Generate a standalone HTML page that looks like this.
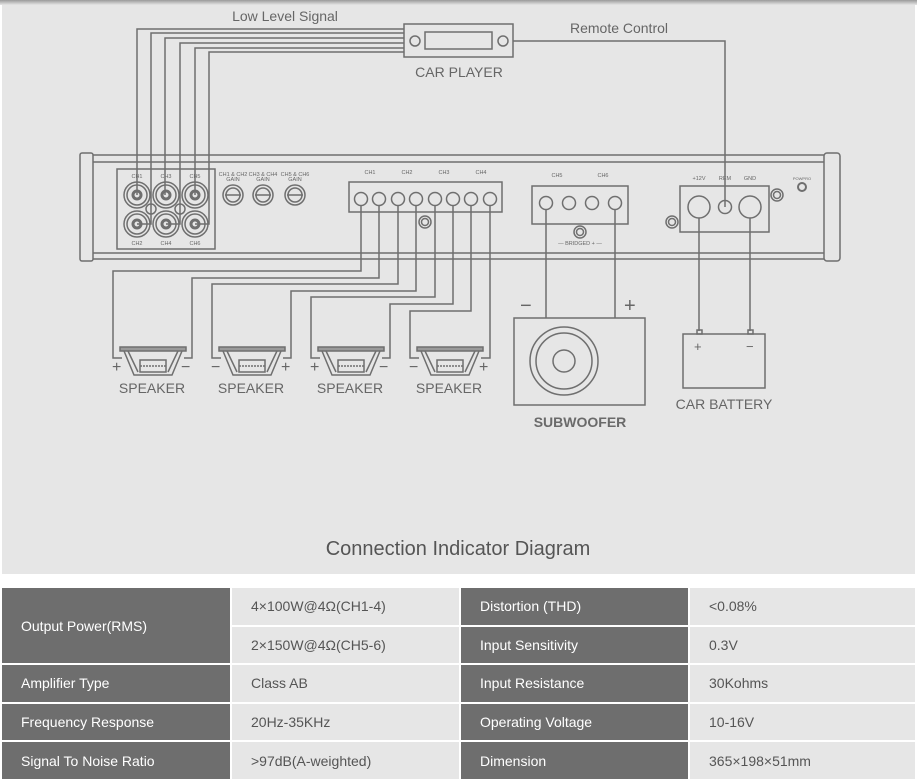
<!DOCTYPE html>
<html><head><meta charset="utf-8">
<style>
body{margin:0;width:917px;height:781px;background:#fff;overflow:hidden;font-family:"Liberation Sans",sans-serif}
.bg{position:absolute;left:2px;top:0;width:913px;height:574px;background:#e6e6e6}
.top{position:absolute;left:0;top:0;width:917px;height:5px;background:linear-gradient(#9a9a9a,#e6e6e6)}
svg{position:absolute;left:0;top:0}
table{position:absolute;left:2px;top:588px;border-collapse:separate;border-spacing:2px 0;margin-left:-2px}
td{height:36.6px;font-size:14px;padding:0 0 0 19px;border-bottom:2px solid #fff}
td.d{background:#6e6e6e;color:#fff}
td.l{background:#e6e6e6;color:#555}
</style></head><body>
<div class="bg"></div><div class="top"></div>
<svg width="917" height="781" viewBox="0 0 917 781" fill="none" stroke="#6f6f6f" stroke-width="1.5">
<g font-family="Liberation Sans, sans-serif" fill="#666" stroke="none">
<text x="285" y="21" font-size="14" text-anchor="middle">Low Level Signal</text>
<text x="619" y="33" font-size="14" text-anchor="middle">Remote Control</text>
<text x="459" y="77" font-size="14" text-anchor="middle">CAR PLAYER</text>
<text x="580" y="427" font-size="14" text-anchor="middle" font-weight="bold" fill="#6a6a6a">SUBWOOFER</text>
<text x="724" y="409" font-size="14" text-anchor="middle">CAR BATTERY</text>
<text x="458" y="555" font-size="20" text-anchor="middle" fill="#555">Connection Indicator Diagram</text>
<g font-size="14" text-anchor="middle"><text x="152" y="393">SPEAKER</text><text x="251" y="393">SPEAKER</text><text x="350" y="393">SPEAKER</text><text x="449" y="393">SPEAKER</text></g>
<g font-size="5.5" text-anchor="middle"><text x="137" y="178">CH1</text><text x="166" y="178">CH3</text><text x="195" y="178">CH5</text><text x="137" y="245">CH2</text><text x="166" y="245">CH4</text><text x="195" y="245">CH6</text>
<text x="233" y="176">CH1 &amp; CH2</text><text x="233" y="181">GAIN</text><text x="263" y="176">CH3 &amp; CH4</text><text x="263" y="181">GAIN</text><text x="295" y="176">CH5 &amp; CH6</text><text x="295" y="181">GAIN</text>
<text x="370" y="174">CH1</text><text x="407" y="174">CH2</text><text x="444" y="174">CH3</text><text x="481" y="174">CH4</text>
<text x="557" y="177">CH5</text><text x="603" y="177">CH6</text>
<text x="699" y="180">+12V</text><text x="725" y="180">REM</text><text x="750" y="180">GND</text>
<text x="580" y="245">— BRIDGED + —</text><text x="802" y="180" font-size="4">POWPRO</text></g>
<g font-size="16"><text x="112" y="372">+</text><text x="181" y="372">−</text><text x="211" y="372">−</text><text x="281" y="372">+</text><text x="310" y="372">+</text><text x="379" y="372">−</text><text x="409" y="372">−</text><text x="479" y="372">+</text></g>
<text x="520" y="312" font-size="20">−</text><text x="624" y="312" font-size="20">+</text>
<text x="694" y="351" font-size="13">+</text><text x="746" y="351" font-size="13">−</text>
</g>
<!-- car player -->
<rect x="404" y="24" width="109" height="33"/><circle cx="415" cy="41" r="5"/><circle cx="503" cy="41" r="5"/><rect x="425" y="32" width="67" height="17"/>
<!-- input wires -->
<path d="M404 29H137V195M404 33H151V224H137M404 38H165V195M404 43H180V224H166M404 48H195V195M404 52H209V224H195"/>
<path d="M513 41H725V207"/>
<!-- amp body -->
<path d="M93 155H824M93 162H824M93 253H824M93 259H824"/>
<rect x="80" y="153" width="13" height="108" rx="2"/><rect x="824" y="153" width="16" height="108" rx="3"/>
<rect x="117" y="169" width="98" height="80"/>
<g>
<circle cx="137" cy="195" r="13"/><circle cx="137" cy="195" r="10"/><circle cx="137" cy="195" r="4" stroke-width="3"/>
<circle cx="166" cy="195" r="13"/><circle cx="166" cy="195" r="10"/><circle cx="166" cy="195" r="4" stroke-width="3"/>
<circle cx="195" cy="195" r="13"/><circle cx="195" cy="195" r="10"/><circle cx="195" cy="195" r="4" stroke-width="3"/>
<circle cx="137" cy="224" r="13"/><circle cx="137" cy="224" r="10"/><circle cx="137" cy="224" r="4" stroke-width="3"/>
<circle cx="166" cy="224" r="13"/><circle cx="166" cy="224" r="10"/><circle cx="166" cy="224" r="4" stroke-width="3"/>
<circle cx="195" cy="224" r="13"/><circle cx="195" cy="224" r="10"/><circle cx="195" cy="224" r="4" stroke-width="3"/>
<circle cx="151" cy="209" r="5"/><circle cx="180" cy="209" r="5"/>
<circle cx="233" cy="195" r="10"/><circle cx="233" cy="195" r="7"/><path d="M225 195H241"/>
<circle cx="263" cy="195" r="10"/><circle cx="263" cy="195" r="7"/><path d="M255 195H271"/>
<circle cx="295" cy="195" r="10"/><circle cx="295" cy="195" r="7"/><path d="M287 195H303"/>
</g>
<rect x="349" y="182" width="153" height="30"/>
<g><circle cx="361" cy="199" r="6.5"/><circle cx="379" cy="199" r="6.5"/><circle cx="398" cy="199" r="6.5"/><circle cx="416" cy="199" r="6.5"/><circle cx="435" cy="199" r="6.5"/><circle cx="453" cy="199" r="6.5"/><circle cx="471" cy="199" r="6.5"/><circle cx="490" cy="199" r="6.5"/></g>
<circle cx="425" cy="222" r="6"/><circle cx="425" cy="222" r="3.5"/>
<rect x="532" y="186" width="96" height="38"/>
<circle cx="546" cy="203" r="6.5"/><circle cx="569" cy="203" r="6.5"/><circle cx="592" cy="203" r="6.5"/><circle cx="615" cy="203" r="6.5"/>
<circle cx="580" cy="232" r="6"/><circle cx="580" cy="232" r="3.5"/>
<rect x="680" y="186" width="89" height="46"/>
<circle cx="699" cy="207" r="11"/><circle cx="725" cy="207" r="6.5"/><circle cx="750" cy="207" r="11"/>
<circle cx="672" cy="222" r="6"/><circle cx="672" cy="222" r="3.5"/><circle cx="777" cy="195" r="6"/><circle cx="777" cy="195" r="3.5"/>
<circle cx="802" cy="187" r="4" stroke-width="2"/>
<!-- speaker wires -->
<path d="M361 206V271H113V358H122M379 206V278H192V358H184M398 206V284H212V358H221M416 206V291H291V358H283M435 206V297H311V358H320M453 206V304H390V358H382M471 206V311H410V358H419M490 206V358H481"/>
<g id="sp">
<rect x="120" y="347" width="66" height="4" fill="#9a9a9a"/>
<path d="M124 351L134 375H172L182 351M128 351L138 372M178 351L168 372M134 375H172" />
<rect x="140" y="360" width="26" height="12"/><path d="M140 366H166" stroke-dasharray="2 1"/>
</g>
<use href="#sp" x="99"/><use href="#sp" x="198"/><use href="#sp" x="297"/>
<!-- sub -->
<path d="M546 210V318M615 210V318"/>
<rect x="514" y="318" width="131" height="87"/>
<circle cx="564" cy="361" r="34"/><circle cx="564" cy="361" r="28"/><circle cx="564" cy="361" r="11"/>
<!-- battery -->
<path d="M699 218V331M750 218V331"/>
<rect x="697" y="330" width="5" height="4"/><rect x="748" y="330" width="5" height="4"/>
<rect x="683" y="334" width="82" height="54"/>
</svg>
<table>
<tr><td class="d" rowspan="2" style="width:209px;height:75px">Output Power(RMS)</td><td class="l" style="width:208px">4×100W@4Ω(CH1-4)</td><td class="d" style="width:208px">Distortion (THD)</td><td class="l" style="width:206px">&lt;0.08%</td></tr>
<tr><td class="l">2×150W@4Ω(CH5-6)</td><td class="d">Input Sensitivity</td><td class="l">0.3V</td></tr>
<tr><td class="d">Amplifier Type</td><td class="l">Class AB</td><td class="d">Input Resistance</td><td class="l">30Kohms</td></tr>
<tr><td class="d">Frequency Response</td><td class="l">20Hz-35KHz</td><td class="d">Operating Voltage</td><td class="l">10-16V</td></tr>
<tr><td class="d">Signal To Noise Ratio</td><td class="l">&gt;97dB(A-weighted)</td><td class="d">Dimension</td><td class="l">365×198×51mm</td></tr>
</table>
</body></html>
